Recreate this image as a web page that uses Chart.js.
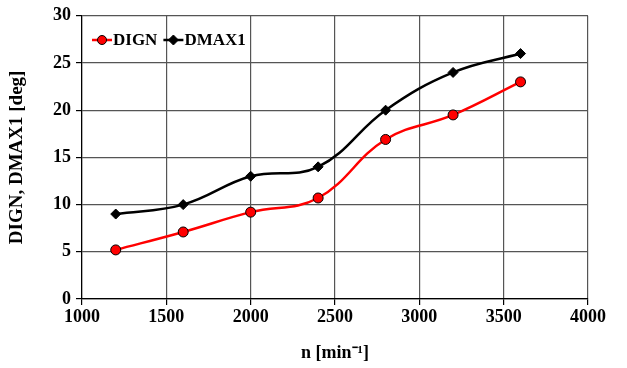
<!DOCTYPE html>
<html><head><meta charset="utf-8">
<script src="https://cdn.jsdelivr.net/npm/chart.js@4/dist/chart.umd.min.js"></script>
<style>html,body{margin:0;padding:0;background:#fff}#wrap{width:627px;height:368px}</style>
</head><body><div id="wrap"><canvas id="c" width="627" height="368"></canvas></div>
<script>
const rpm = [1200, 1600, 2000, 2400, 2800, 3200, 3600];
const dign = [5.2, 7.1, 9.2, 10.7, 16.9, 19.5, 23.0];
const dmax1 = [9.0, 10.0, 13.0, 14.0, 20.0, 24.0, 26.0];
const xTicks = [1000, 1500, 2000, 2500, 3000, 3500, 4000];
const yTicks = [0, 5, 10, 15, 20, 25, 30];

const FONT = "'Liberation Serif', 'Times New Roman', serif";

const inLegend = {
  id: 'inLegend',
  afterDraw(chart) {
    const ctx = chart.ctx, a = chart.chartArea;
    ctx.save();
    ctx.font = "bold 17px " + FONT;
    ctx.textBaseline = 'middle';
    let x = a.left + 10, y = 40;
    chart.data.datasets.forEach(ds => {
      ctx.strokeStyle = ds.borderColor; ctx.lineWidth = 2.5;
      ctx.beginPath(); ctx.moveTo(x, y); ctx.lineTo(x + 20, y); ctx.stroke();
      ctx.fillStyle = ds.pointBackgroundColor; ctx.strokeStyle = '#000'; ctx.lineWidth = 1;
      ctx.beginPath();
      if (ds.pointStyle === 'circle') { ctx.arc(x + 10, y, 4.5, 0, Math.PI * 2); }
      else { ctx.moveTo(x + 10, y - 5); ctx.lineTo(x + 15, y); ctx.lineTo(x + 10, y + 5); ctx.lineTo(x + 5, y); ctx.closePath(); }
      ctx.fill(); ctx.stroke();
      ctx.fillStyle = '#000';
      ctx.fillText(ds.label, x + 21, y + 1);
      x += 21 + ctx.measureText(ds.label).width + 6;
    });
    ctx.restore();
  }
};

new Chart(document.getElementById('c'), {
  type: 'line',
  data: {
    datasets: [
      { label: 'DIGN', data: rpm.map((v, i) => ({x: v, y: dign[i]})), borderColor: '#ff0000', backgroundColor: '#ff0000',
        pointBackgroundColor: '#ff0000', pointBorderColor: '#000', pointBorderWidth: 1, pointRadius: 5, pointStyle: 'circle',
        borderWidth: 2.5, tension: 0.4 },
      { label: 'DMAX1', data: rpm.map((v, i) => ({x: v, y: dmax1[i]})), borderColor: '#000', backgroundColor: '#000',
        pointBackgroundColor: '#000', pointBorderColor: '#000', pointBorderWidth: 1, pointRadius: 5, pointStyle: 'rectRot',
        borderWidth: 2.5, tension: 0.4 }
    ]
  },
  options: {
    responsive: false, animation: false,
    layout: { padding: { left: 0, right: 39, top: 15, bottom: 0 } },
    plugins: { legend: { display: false }, tooltip: { enabled: false } },
    scales: {
      x: { type: 'linear', min: 1000, max: 4000,
        afterBuildTicks: s => { s.ticks = xTicks.map(v => ({value: v})); },
        afterFit: s => { s.height = 69; },
        grid: { color: '#555', lineWidth: 1.2, tickLength: 6, tickColor: '#000' },
        border: { color: '#000', width: 1.2 },
        ticks: { color: '#000', font: { family: FONT, size: 18, weight: 'bold' }, padding: 2, maxRotation: 0,
          callback: v => String(v) },
        title: { display: true, text: 'n [min⁻¹]', color: '#000', font: { family: FONT, size: 18, weight: 'bold' }, padding: { top: 15 } }
      },
      y: { type: 'linear', min: 0, max: 30,
        afterBuildTicks: s => { s.ticks = yTicks.map(v => ({value: v})); },
        afterFit: s => { s.width = 82; },
        grid: { color: '#555', lineWidth: 1.2, tickLength: 6, tickColor: '#000' },
        border: { color: '#000', width: 1.2 },
        ticks: { color: '#000', font: { family: FONT, size: 18, weight: 'bold' }, padding: 5, callback: v => String(v) },
        title: { display: true, text: 'DIGN, DMAX1 [deg]', color: '#000', font: { family: FONT, size: 19, weight: 'bold' }, padding: { top: 6, bottom: 2 } }
      }
    }
  },
  plugins: [inLegend]
});
</script>
</body></html>
